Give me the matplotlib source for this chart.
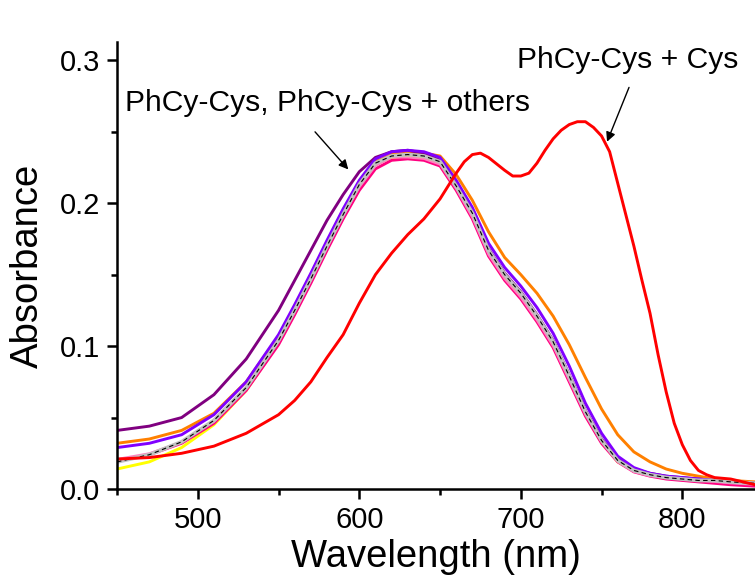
import matplotlib
matplotlib.use("Agg")
import matplotlib.pyplot as plt
from matplotlib.ticker import MultipleLocator

plt.rcParams['font.family'] = ['Liberation Sans', 'DejaVu Sans']

# ---------------- data ----------------
wl = [450, 470, 490, 510, 530, 550, 560, 570, 580, 590, 600, 610, 620, 630, 640,
      650, 660, 670, 680, 690, 700, 710, 720, 730, 740, 750, 760, 770, 780, 790,
      800, 810, 820, 830, 845]

gray = [0.019, 0.024, 0.033, 0.048, 0.071, 0.104, 0.125, 0.147, 0.170, 0.192,
        0.213, 0.228, 0.233, 0.234, 0.233, 0.229, 0.212, 0.193, 0.167, 0.150,
        0.137, 0.121, 0.103, 0.079, 0.054, 0.034, 0.020, 0.013, 0.010, 0.008,
        0.007, 0.006, 0.006, 0.005, 0.004]
violet = [0.029, 0.032, 0.038, 0.052, 0.075, 0.108, 0.129, 0.151, 0.174, 0.196,
          0.216, 0.231, 0.236, 0.237, 0.236, 0.232, 0.216, 0.197, 0.172, 0.155,
          0.142, 0.127, 0.109, 0.086, 0.060, 0.039, 0.023, 0.015, 0.011, 0.009,
          0.008, 0.007, 0.006, 0.005, 0.004]
orange = [0.032, 0.035, 0.041, 0.053, 0.075, 0.107, 0.128, 0.150, 0.173, 0.195,
          0.215, 0.229, 0.234, 0.235, 0.235, 0.233, 0.220, 0.202, 0.180, 0.162,
          0.150, 0.137, 0.121, 0.101, 0.078, 0.056, 0.038, 0.026, 0.019, 0.014,
          0.011, 0.009, 0.007, 0.006, 0.005]
purple = [0.041, 0.044, 0.050, 0.066, 0.091, 0.125, 0.146, 0.167, 0.188, 0.206,
          0.222, 0.232, 0.236, 0.237, 0.235, 0.230, 0.213, 0.194, 0.168, 0.151,
          0.138, 0.122, 0.104, 0.080, 0.055, 0.035, 0.021, 0.014, 0.011, 0.009,
          0.008, 0.007, 0.006, 0.005, 0.004]
magenta = [0.020, 0.024, 0.032, 0.046, 0.069, 0.101, 0.122, 0.144, 0.167, 0.189,
           0.209, 0.224, 0.230, 0.231, 0.230, 0.226, 0.209, 0.189, 0.163, 0.146,
           0.133, 0.117, 0.099, 0.075, 0.051, 0.032, 0.019, 0.012, 0.009, 0.007,
           0.006, 0.005, 0.004, 0.003, 0.002]
yellow = [0.014, 0.019, 0.029, 0.045, 0.069, 0.102, 0.124, 0.146, 0.169, 0.191,
          0.212, 0.227, 0.232, 0.233, 0.232, 0.228, 0.211, 0.191, 0.165, 0.148,
          0.135, 0.119, 0.101, 0.077, 0.052, 0.033, 0.019, 0.013, 0.010, 0.008,
          0.007, 0.006, 0.006, 0.005, 0.004]
pink = [0.021, 0.025, 0.033, 0.047, 0.070, 0.103, 0.124, 0.146, 0.169, 0.191,
        0.211, 0.226, 0.232, 0.232, 0.231, 0.227, 0.210, 0.190, 0.164, 0.147,
        0.134, 0.118, 0.100, 0.076, 0.052, 0.033, 0.019, 0.012, 0.009, 0.008,
        0.007, 0.006, 0.005, 0.004, 0.003]

wl_red = [450, 470, 490, 510, 530, 550, 560, 570, 580, 590, 600, 610, 620, 630,
          640, 650, 660, 665, 670, 675, 680, 690, 695, 700, 705, 710, 715, 720,
          725, 730, 735, 740, 745, 750, 755, 760, 765, 770, 775, 780, 785, 790,
          795, 800, 805, 810, 815, 820, 830, 845]
red = [0.021, 0.022, 0.025, 0.030, 0.039, 0.052, 0.062, 0.075, 0.092, 0.108,
       0.130, 0.150, 0.165, 0.178, 0.189, 0.203, 0.221, 0.229, 0.234, 0.235,
       0.232, 0.223, 0.219, 0.219, 0.221, 0.228, 0.237, 0.245, 0.251, 0.255,
       0.257, 0.257, 0.253, 0.247, 0.236, 0.214, 0.192, 0.170, 0.146, 0.123,
       0.094, 0.068, 0.046, 0.031, 0.020, 0.013, 0.010, 0.008, 0.007, 0.003]

x_ticks = [500, 600, 700, 800]
y_ticks = [0.0, 0.1, 0.2, 0.3]

# ---------------- figure ----------------
fig = plt.figure(figsize=(7.55, 5.81), dpi=100)
ax = fig.add_axes([0.155, 0.1583, 0.845, 0.769])

lw = 2.1
ax.plot(wl, yellow, color='#FFFF00', lw=lw)
ax.plot(wl, orange, color='#FF8000', lw=lw)
ax.plot(wl, purple, color='#800080', lw=lw)
ax.plot(wl, violet, color='#8000FF', lw=lw)
ax.plot(wl, magenta, color='#FF0080', lw=lw)
ax.plot(wl, pink, color='#FF80C0', lw=1.5)
ax.plot(wl, gray, color='#C0C0C0', lw=2.8)
ax.plot(wl, gray, color='black', lw=0.8, ls=(0, (4, 3)))
ax.plot(wl_red, red, color='#FF0000', lw=lw)

ax.set_xlim(450, 845)
ax.set_ylim(0, 0.3126)
ax.set_xticks(x_ticks)
ax.set_yticks(y_ticks)
ax.set_yticklabels(['0.0', '0.1', '0.2', '0.3'])
ax.xaxis.set_minor_locator(MultipleLocator(50))
ax.yaxis.set_minor_locator(MultipleLocator(0.05))

for s in ['top', 'right']:
    ax.spines[s].set_visible(False)
for s in ['left', 'bottom']:
    ax.spines[s].set_linewidth(1.8)

ax.tick_params(which='major', direction='out', length=7, width=1.8,
               labelsize=21, pad=5)
ax.tick_params(which='minor', direction='out', length=4, width=1.8)

ax.set_xlabel('Wavelength (nm)', fontsize=27.5, labelpad=4)
ax.set_ylabel('Absorbance', fontsize=27.5, labelpad=10)

ax.text(766, 0.300, 'PhCy-Cys + Cys', fontsize=21.6, ha='center', va='center')
ax.annotate('', xy=(753.4, 0.243), xytext=(767.0, 0.281),
            arrowprops=dict(arrowstyle='-|>', color='black', lw=1.0,
                            shrinkA=0, shrinkB=0, mutation_scale=14))
ax.text(580.5, 0.270, 'PhCy-Cys, PhCy-Cys + others', fontsize=21.6,
        ha='center', va='center')
ax.annotate('', xy=(593.2, 0.2236), xytext=(572.6, 0.2499),
            arrowprops=dict(arrowstyle='-|>', color='black', lw=1.0,
                            shrinkA=0, shrinkB=0, mutation_scale=14))

fig.savefig('out.png', dpi=100)
